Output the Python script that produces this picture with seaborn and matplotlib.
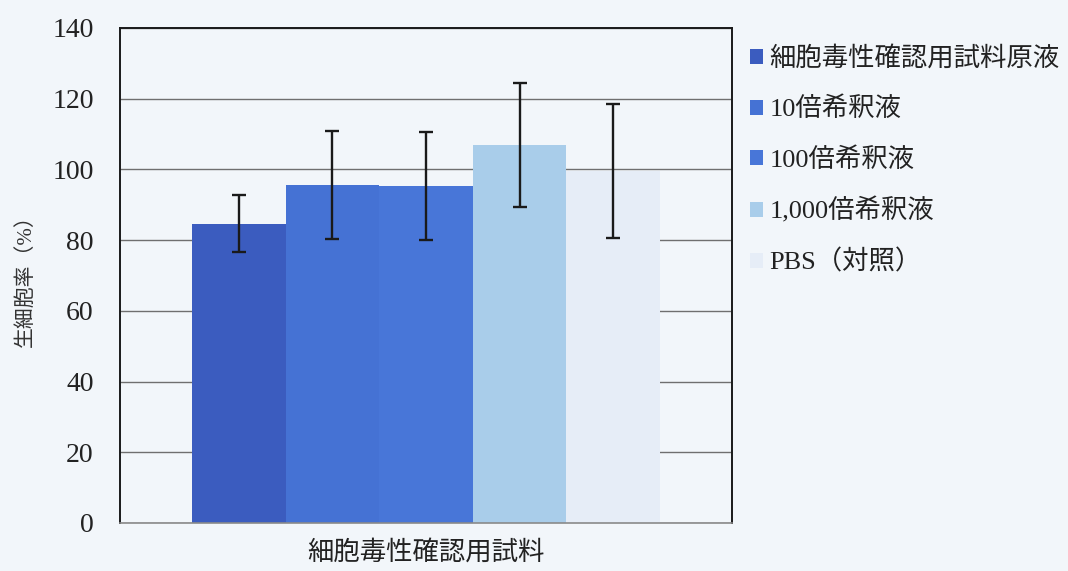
import numpy as np
import pandas as pd
import matplotlib
matplotlib.use("Agg")
import matplotlib.pyplot as plt
import seaborn as sns

# データ
category = ["細胞毒性確認用試料"]
series = ["細胞毒性確認用試料原液", "10倍希釈液", "100倍希釈液", "1,000倍希釈液", "PBS（対照）"]
viability = [84.7, 95.6, 95.4, 106.8, 99.5]
sd = [8.2, 15.2, 15.3, 17.5, 19.0]
yticks = [0, 20, 40, 60, 80, 100, 120, 140]

colors = ["#3b5cbf", "#4572d4", "#4876d8", "#a9cdea", "#e6edf7"]
bg = "#f2f6fa"

sns.set_style("white")
plt.rcParams['font.family'] = ['Liberation Serif', 'Noto Sans CJK JP', 'DejaVu Sans']

df = pd.DataFrame({
    'sample': category * len(series),
    'series': series,
    'viability': viability,
})

fig = plt.figure(figsize=(10.68, 5.71), dpi=100, facecolor=bg)
ax = fig.add_axes([0.1124, 0.0841, 0.5730, 0.8669])
ax.set_facecolor(bg)

sns.barplot(data=df, x='sample', y='viability', hue='series', hue_order=series,
            palette=colors, width=0.765, gap=0, errorbar=None, saturation=1,
            linewidth=0, ax=ax, legend=False, zorder=2)

# 誤差棒
bars = ax.patches[:len(series)]
xs = [b.get_x() + b.get_width() / 2 for b in bars]
ax.errorbar(xs, viability, yerr=sd, fmt='none', ecolor='#1a1a1a',
            elinewidth=1.7, capsize=5, capthick=1.7, zorder=3)

ax.set_ylim(0, 140)
ax.set_xlim(-0.5, 0.5)
ax.set_yticks(yticks)
ax.yaxis.grid(True, color='#6f6f6f', linewidth=1.0, zorder=0)
ax.set_axisbelow(True)
ax.tick_params(axis='y', length=0, pad=19, labelsize=20, labelcolor='#222222')
ax.tick_params(axis='x', length=0, pad=12, labelsize=19, labelcolor='#222222')
ax.set_xlabel('')
ax.set_ylabel('生細胞率（%）', fontsize=15, color='#333333', labelpad=12)

for side in ['left', 'top', 'right']:
    ax.spines[side].set_color('#1a1a1a')
    ax.spines[side].set_linewidth(1.4)
ax.spines['bottom'].set_color('#8a8a8a')
ax.spines['bottom'].set_linewidth(1.2)

# 凡例
leg = ax.legend(bars, series, loc='upper left', bbox_to_anchor=(1.012, 0.985),
                frameon=False, fontsize=19, handlelength=0.5, handleheight=0.5,
                handletextpad=0.25, labelspacing=0.98, borderaxespad=0)
for t in leg.get_texts():
    t.set_color('#222222')

fig.savefig('out.png', dpi=100, facecolor=bg)
